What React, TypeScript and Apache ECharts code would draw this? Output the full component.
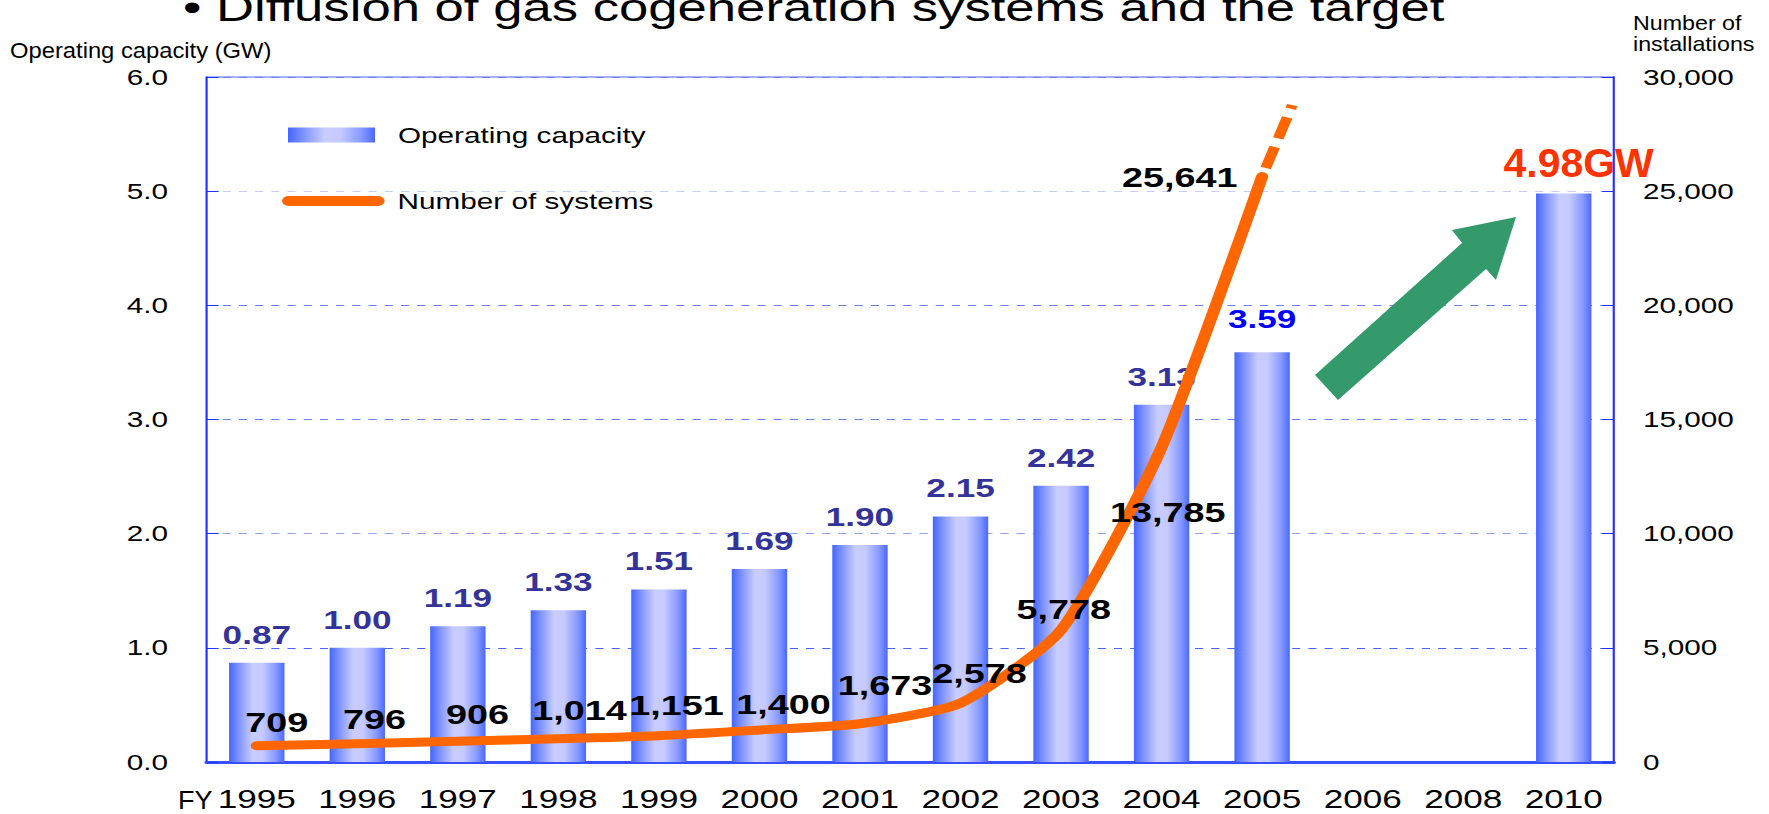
import React, { useEffect, useRef } from "react";
import * as echarts from "echarts";

// ---- data ----
const categories = ["1995", "1996", "1997", "1998", "1999", "2000", "2001", "2002", "2003", "2004", "2005", "2006", "2008", "2010"];
const capacityGW = [0.87, 1.0, 1.19, 1.33, 1.51, 1.69, 1.9, 2.15, 2.42, 3.13, 3.59, null, null, 4.98];
const systemsCount = [709, 796, 906, 1014, 1151, 1400, 1673, 2578, 5778, 13785, 25641];
const projectionIndex = [10, 10.3];
const projectionCount = [25641, 28770];
const targetIndex = 13;
const targetLabel = "4.98GW";
const leftTicks = { min: 0, max: 6, interval: 1 };
const rightTicks = { min: 0, max: 30000, interval: 5000 };

// ---- layout / styling (not data) ----
const W = 1310;
const H = 814;
const SX = 1769 / W;
const fx = (v: number) => v / SX;
const lineLabelOffsets: number[][] = [
  [14.8, -23], [12.8, -25], [14.6, -27], [15.6, -29], [13.1, -30], [17.8, -26],
  [18.5, -38], [14.1, -30], [2, -21], [4.6, 65], [-61, 1],
];
const FONT = "Liberation Sans, Arial, sans-serif";

export default function App() {
  const ref = useRef<HTMLDivElement>(null);
  useEffect(() => {
    if (!ref.current) return;
    const chart = echarts.init(ref.current, undefined, { renderer: "svg" });
    const barGrad = new echarts.graphic.LinearGradient(0, 0, 1, 0, [
      { offset: 0, color: "#4466ff" },
      { offset: 0.18, color: "#8094ff" },
      { offset: 0.42, color: "#c8ccff" },
      { offset: 0.6, color: "#c6caff" },
      { offset: 0.85, color: "#8598ff" },
      { offset: 1, color: "#4a68ff" },
    ]);
    const arrowFull = [
      [1315, 375], [1462, 243], [1452, 230], [1516, 217], [1496, 280], [1486, 269], [1338, 400],
    ];
    const option: any = {
      animation: false,
      textStyle: { fontFamily: FONT },
      grid: {
        left: fx(206.5), right: W - fx(1614), top: 77, bottom: 52,
        show: true, borderColor: "#5566ff", borderWidth: 1, backgroundColor: "transparent",
      },
      legend: [
        {
          data: [{ name: "Operating capacity", icon: "rect" }],
          left: fx(288) - 5, top: 119, padding: 5, itemWidth: fx(375) - fx(288), itemHeight: 15,
          selectedMode: false,
          textStyle: { fontSize: 22, color: "#000", fontFamily: FONT, padding: [0, 0, 0, 12] },
        },
        {
          data: [{ name: "Number of systems", icon: "path://M5,0L71,0A5,5,0,0,1,71,10L5,10A5,5,0,0,1,5,0Z" }],
          left: fx(282) - 5, top: 185, padding: 5, itemWidth: 76, itemHeight: 10,
          selectedMode: false,
          textStyle: { fontSize: 22, color: "#000", fontFamily: FONT, padding: [0, 0, 0, 4.6] },
        },
      ],
      xAxis: [
        {
          type: "category",
          data: categories,
          axisLine: { lineStyle: { color: "#3a4fff", width: 3 } },
          axisTick: { show: false },
          axisLabel: { fontSize: 26, color: "#000", margin: 24.5, interval: 0, fontFamily: FONT },
        },
        { type: "value", min: -0.5, max: 13.5, show: false },
      ],
      yAxis: [
        {
          type: "value", position: "left", ...leftTicks,
          axisLine: { show: true, onZero: false, lineStyle: { color: "#2233ff", width: 1.5 } },
          axisTick: { show: true, inside: true, length: 9, lineStyle: { color: "#2233ff" } },
          axisLabel: { fontSize: 22, color: "#000", margin: 28.5, formatter: (v: number) => v.toFixed(1) },
          splitLine: {
            show: true,
            lineStyle: {
              type: [6, 6],
              width: 1,
              color: ["#4466ff", "#4466ff", "#8fa2ff", "#6680ff", "#6680ff", "#c5cdff", "#6a7fff"],
            },
          },
        },
        {
          type: "value", position: "right", ...rightTicks,
          axisLine: { show: true, onZero: false, lineStyle: { color: "#2233ff", width: 1.5 } },
          axisTick: { show: true, inside: true, length: 9, lineStyle: { color: "#2233ff" } },
          axisLabel: {
            fontSize: 22, color: "#000", margin: 21.5,
            formatter: (v: number) => v.toLocaleString("en-US"),
          },
          splitLine: { show: false },
        },
      ],
      series: [
        {
          name: "Operating capacity",
          type: "bar",
          xAxisIndex: 0,
          yAxisIndex: 0,
          barWidth: 41,
          itemStyle: { color: barGrad },
          label: {
            show: true, position: "top", distance: 15,
            fontSize: 26, fontWeight: "bold", color: "#333399",
            formatter: (p: any) => Number(p.value).toFixed(2),
          },
          data: capacityGW.map((v, i) => {
            if (i === 10) return { value: v, label: { color: "#0000ff", distance: 20 } };
            if (i === targetIndex) return { value: v, label: { show: false } };
            return v;
          }),
          z: 2,
        },
        {
          name: "Number of systems",
          type: "line",
          xAxisIndex: 0,
          yAxisIndex: 1,
          smooth: 0.2,
          symbol: "circle",
          symbolSize: 2,
          itemStyle: { color: "#ff6600" },
          lineStyle: { color: "#ff6600", width: 9, cap: "round", join: "round" },
          label: {
            show: true, position: "inside",
            fontSize: 28, fontWeight: "bold", color: "#000",
            formatter: (p: any) => Number(p.value).toLocaleString("en-US"),
          },
          data: systemsCount.map((v, i) => ({ value: v, label: { offset: lineLabelOffsets[i] } })),
          z: 4,
        },
        {
          name: "projection",
          type: "line",
          xAxisIndex: 1,
          yAxisIndex: 1,
          symbol: "none",
          silent: true,
          lineStyle: { color: "#ff6600", width: 8, type: [22, 9], dashOffset: 22, cap: "butt" },
          data: projectionIndex.map((x, i) => [x, projectionCount[i]]),
          z: 3,
        },
      ],
      graphic: [
        {
          type: "text", left: fx(183), top: -12,
          style: {
            text: "\u2022 Diffusion of gas cogeneration systems and the target",
            fontSize: 39, fill: "#000", fontFamily: FONT,
          },
        },
        {
          type: "text", x: fx(10), y: 50, scaleX: 0.8,
          style: { text: "Operating capacity (GW)", fontSize: 22, fill: "#000", fontFamily: FONT, verticalAlign: "middle" },
        },
        {
          type: "text", x: fx(1633), y: 12, scaleX: 0.82,
          style: {
            text: "Number of\ninstallations", fontSize: 21, lineHeight: 21, fill: "#000",
            fontFamily: FONT, verticalAlign: "top",
          },
        },
        {
          type: "text", x: fx(178), y: 800, scaleX: 0.8,
          style: { text: "FY", fontSize: 25, fill: "#000", fontFamily: FONT, verticalAlign: "middle" },
        },
        {
          type: "polygon",
          shape: { points: arrowFull.map(([x, y]) => [fx(x), y]) },
          style: { fill: "#359a6b" },
          z: 10,
        },
      ],
    };
    chart.setOption(option);
    // target label placed at the 2010 bar's top through the chart's own scales
    const top = chart.convertToPixel({ xAxisIndex: 0, yAxisIndex: 0 }, [categories[targetIndex], capacityGW[targetIndex]]) as number[];
    chart.setOption({
      graphic: [
        {
          id: "targetLabel", type: "text", x: top[0] + 11, y: top[1] - 10, scaleX: 0.74,
          style: {
            text: targetLabel, fontSize: 41, fontWeight: "bold", fill: "#ff3300", fontFamily: FONT,
            align: "center", verticalAlign: "bottom",
          },
        },
      ],
    });
    return () => chart.dispose();
  }, []);
  return (
    <div
      ref={ref}
      style={{
        position: "fixed", left: 0, top: 0, width: W, height: H,
        transform: `scaleX(${SX})`, transformOrigin: "0 0", background: "#fff",
      }}
    />
  );
}
